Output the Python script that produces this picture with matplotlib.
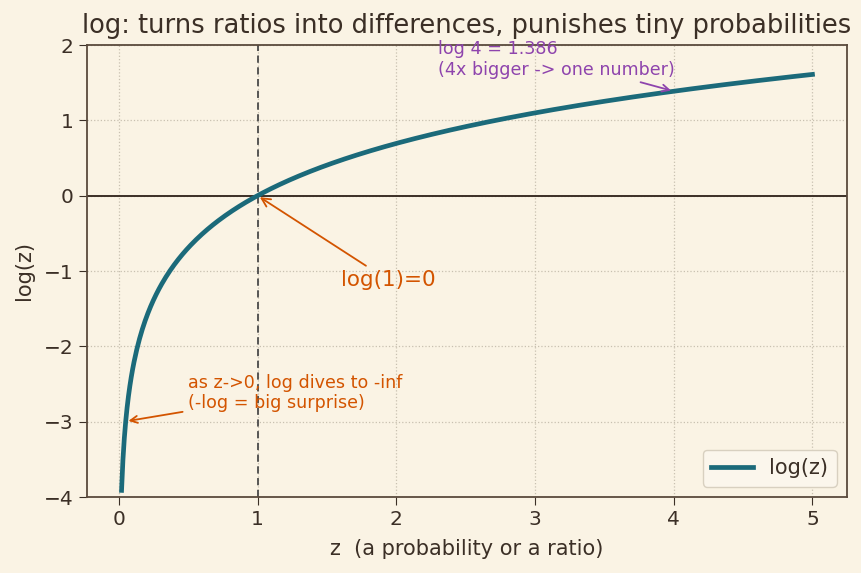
import numpy as np
import matplotlib
matplotlib.use("Agg")
import matplotlib.pyplot as plt

# data
z_start, z_end = 0.02, 5.0
z = np.linspace(z_start, z_end, 500)
y = np.log(z)
x_ticks = [0, 1, 2, 3, 4, 5]
y_ticks = [-4, -3, -2, -1, 0, 1, 2]
ratio_point = 4.0
small_point = 0.05

BG = "#faf3e4"
TXT = "#3b2f26"
TEAL = "#1b6a7a"
ORANGE = "#d35400"
PURPLE = "#8e44ad"

plt.rcParams['font.family'] = ['DejaVu Sans']
fig = plt.figure(figsize=(8.62, 5.73), dpi=100, facecolor=BG)
ax = fig.add_axes([87/862, 1-497/573, 760/862, 452/573])
ax.set_facecolor(BG)

ax.plot(z, y, color=TEAL, lw=3.4, label="log(z)", zorder=3)
ax.axhline(0, color=TXT, lw=1.4, zorder=2)
ax.axvline(1, color="#4a4a4a", lw=1.3, ls=(0, (4, 2.5)), zorder=2)

ax.set_ylim(-4, 2)
ax.set_xticks(x_ticks)
ax.set_yticks(y_ticks)
ax.grid(True, ls=":", color="#c8c0b0", lw=0.9)

ax.annotate("log(1)=0", xy=(1, 0), xytext=(1.6, -1.12), color=ORANGE,
            fontsize=15.5, ha="left", va="center",
            arrowprops=dict(arrowstyle="->", color=ORANGE, lw=1.3))
ax.annotate("as z->0, log dives to -inf\n(-log = big surprise)",
            xy=(small_point, np.log(small_point)), xytext=(0.5, -2.62),
            color=ORANGE, fontsize=12.6, ha="left", va="center",
            arrowprops=dict(arrowstyle="->", color=ORANGE, lw=1.3))
ax.annotate(f"log 4 = {np.log(ratio_point):.3f}\n(4x bigger -> one number)",
            xy=(ratio_point, np.log(ratio_point)), xytext=(2.3, 1.81),
            color=PURPLE, fontsize=12.6, ha="left", va="center",
            arrowprops=dict(arrowstyle="->", color=PURPLE, lw=1.3),
            annotation_clip=False)

ax.set_title("log: turns ratios into differences, punishes tiny probabilities",
             fontsize=18.5, color=TXT, pad=8.6)
ax.set_xlabel("z  (a probability or a ratio)", fontsize=15, color=TXT, labelpad=7)
ax.set_ylabel("log(z)", fontsize=15, color=TXT, labelpad=7)
ax.tick_params(labelsize=14.5, colors=TXT, length=6)
for s in ax.spines.values():
    s.set_color("#5a4a3c")
    s.set_linewidth(1.3)

leg = ax.legend(loc="lower right", fontsize=15, facecolor="#fbf6ec",
                edgecolor="#d8d0c0", framealpha=1)
for t in leg.get_texts():
    t.set_color(TXT)

fig.savefig("out.png", dpi=100, facecolor=BG)
